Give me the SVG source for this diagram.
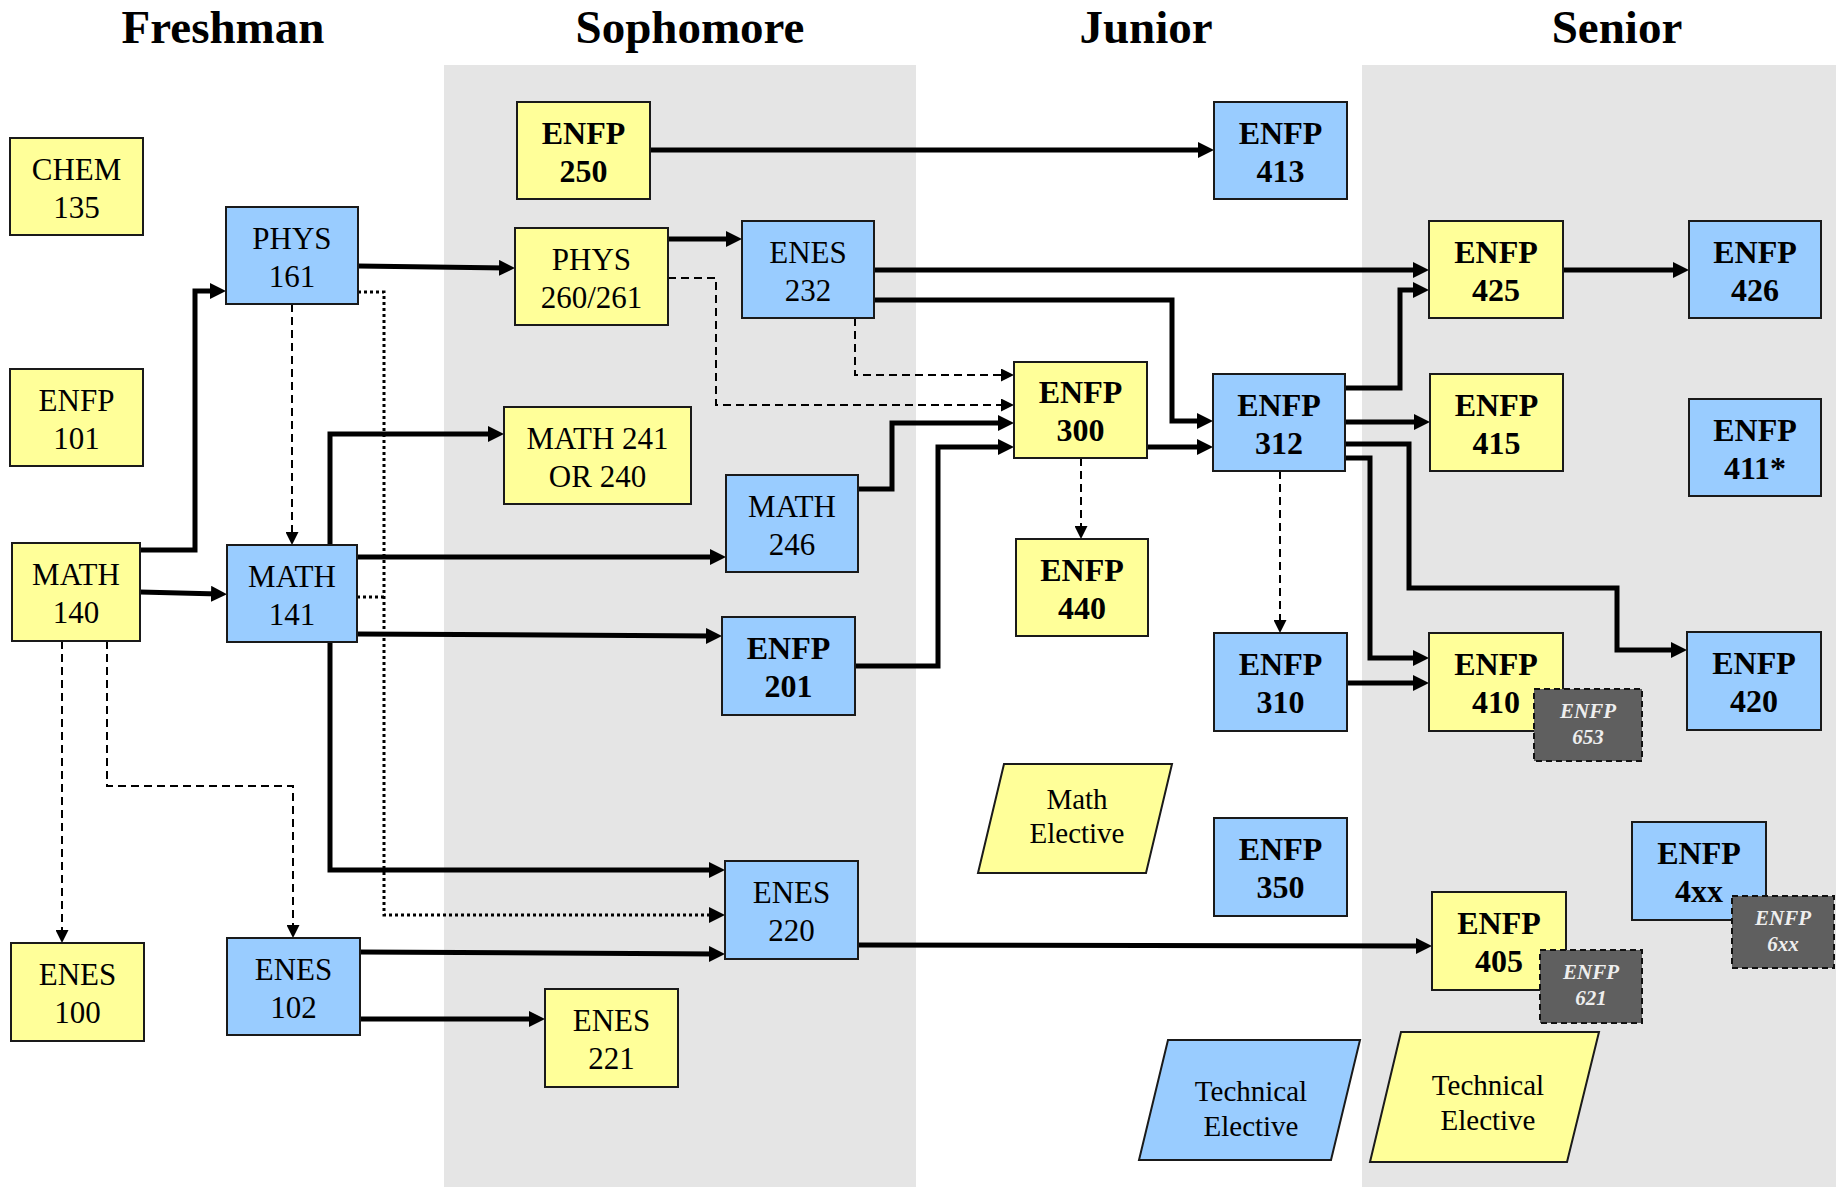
<svg xmlns="http://www.w3.org/2000/svg" width="1839" height="1191" viewBox="0 0 1839 1191">
<defs>
<style>
.bg{fill:#e5e5e5}
.y{fill:#ffff99;stroke:#1a1a1a;stroke-width:2}
.b{fill:#99ccff;stroke:#1a1a1a;stroke-width:2}
.d{fill:#5f5f5f;stroke:#111;stroke-width:2;stroke-dasharray:6 4}
text{font-family:"Liberation Serif","Times New Roman",serif;text-anchor:middle;fill:#000}
.t{font-size:47px;font-weight:bold}
.r{font-size:31px}
.k{font-size:32px;font-weight:bold}
.e{font-size:29px}
.w{font-size:21px;font-weight:bold;font-style:italic;fill:#eeeeee}
.c{fill:none;stroke:#000;stroke-width:5}
.ds{fill:none;stroke:#000;stroke-width:2;stroke-dasharray:8 5}
.dt{fill:none;stroke:#000;stroke-width:3;stroke-dasharray:3 3}
</style>
<marker id="ah" markerUnits="userSpaceOnUse" markerWidth="16" markerHeight="16" refX="8" refY="8" orient="auto"><path d="M0,0 L16,8 L0,16 Z" fill="#000"/></marker>
<marker id="as" markerUnits="userSpaceOnUse" markerWidth="13" markerHeight="13" refX="7" refY="6.5" orient="auto"><path d="M0,0 L13,6.5 L0,13 Z" fill="#000"/></marker>
</defs>
<rect width="1839" height="1191" fill="#fff"/>
<rect class="bg" x="444" y="65" width="472" height="1122"/>
<rect class="bg" x="1362" y="65" width="474" height="1122"/>
<g id="titles">
<text class="t" x="223" y="43">Freshman</text>
<text class="t" x="690" y="43">Sophomore</text>
<text class="t" x="1146" y="43">Junior</text>
<text class="t" x="1617" y="43">Senior</text>
</g>
<g id="connectors">
<path class="c" marker-end="url(#ah)" d="M650,150 H1206"/>
<path class="c" marker-end="url(#ah)" d="M358,266 L507,268"/>
<path class="c" marker-end="url(#ah)" d="M668,239 H734"/>
<path class="c" marker-end="url(#ah)" d="M874,270 H1421"/>
<path class="c" marker-end="url(#ah)" d="M874,300 H1172 V421 H1205"/>
<path class="c" marker-end="url(#ah)" d="M858,489 H892 V423 H1006"/>
<path class="c" marker-end="url(#ah)" d="M855,666 H938 V447 H1006"/>
<path class="c" marker-end="url(#ah)" d="M1147,447 H1205"/>
<path class="c" marker-end="url(#ah)" d="M1345,388 H1400 V290 H1421"/>
<path class="c" marker-end="url(#ah)" d="M1345,422 H1422"/>
<path class="c" marker-end="url(#ah)" d="M1345,444 H1409 V588 H1617 V650 H1679"/>
<path class="c" marker-end="url(#ah)" d="M1345,458 H1370 V658 H1421"/>
<path class="c" marker-end="url(#ah)" d="M1347,683 H1421"/>
<path class="c" marker-end="url(#ah)" d="M1563,270 H1681"/>
<path class="c" marker-end="url(#ah)" d="M140,550 H195 V291 H218"/>
<path class="c" marker-end="url(#ah)" d="M140,592 L219,594"/>
<path class="c" marker-end="url(#ah)" d="M330,545 V434 H496"/>
<path class="c" marker-end="url(#ah)" d="M357,557 H718"/>
<path class="c" marker-end="url(#ah)" d="M357,634 L714,636"/>
<path class="c" marker-end="url(#ah)" d="M330,642 V870 H717"/>
<path class="c" marker-end="url(#ah)" d="M360,952 L717,954"/>
<path class="c" marker-end="url(#ah)" d="M360,1019 H537"/>
<path class="c" marker-end="url(#ah)" d="M858,945 L1424,946"/>
<path class="ds" marker-end="url(#as)" d="M855,318 V375 H1008"/>
<path class="ds" marker-end="url(#as)" d="M668,278 H716 V405 H1008"/>
<path class="ds" marker-end="url(#as)" d="M1081,458 V533"/>
<path class="ds" marker-end="url(#as)" d="M1280,471 V627"/>
<path class="ds" marker-end="url(#as)" d="M292,304 V539"/>
<path class="ds" marker-end="url(#as)" d="M62,641 V937"/>
<path class="ds" marker-end="url(#as)" d="M107,641 V786 H293 V932"/>
<path class="dt" marker-end="url(#ah)" d="M358,292 H384 V915 H717"/>
<path class="dt" d="M357,597 H384"/>
</g>
<g id="chem135"><rect class="y" x="10" y="138" width="133" height="97"/><text class="r" x="76.5" y="180">CHEM</text><text class="r" x="76.5" y="218">135</text></g>
<g id="enfp101"><rect class="y" x="10" y="369" width="133" height="97"/><text class="r" x="76.5" y="411">ENFP</text><text class="r" x="76.5" y="449">101</text></g>
<g id="math140"><rect class="y" x="12" y="543" width="128" height="98"/><text class="r" x="76" y="585">MATH</text><text class="r" x="76" y="623">140</text></g>
<g id="phys161"><rect class="b" x="226" y="207" width="132" height="97"/><text class="r" x="292" y="249">PHYS</text><text class="r" x="292" y="287">161</text></g>
<g id="math141"><rect class="b" x="227" y="545" width="130" height="97"/><text class="r" x="292" y="587">MATH</text><text class="r" x="292" y="625">141</text></g>
<g id="enes100"><rect class="y" x="11" y="943" width="133" height="98"/><text class="r" x="77.5" y="985">ENES</text><text class="r" x="77.5" y="1023">100</text></g>
<g id="enes102"><rect class="b" x="227" y="938" width="133" height="97"/><text class="r" x="293.5" y="980">ENES</text><text class="r" x="293.5" y="1018">102</text></g>
<g id="enfp250"><rect class="y" x="517" y="102" width="133" height="97"/><text class="k" x="583.5" y="144">ENFP</text><text class="k" x="583.5" y="182">250</text></g>
<g id="phys260"><rect class="y" x="515" y="228" width="153" height="97"/><text class="r" x="591.5" y="270">PHYS</text><text class="r" x="591.5" y="308">260/261</text></g>
<g id="enes232"><rect class="b" x="742" y="221" width="132" height="97"/><text class="r" x="808" y="263">ENES</text><text class="r" x="808" y="301">232</text></g>
<g id="math241"><rect class="y" x="504" y="407" width="187" height="97"/><text class="r" x="597.5" y="449">MATH 241</text><text class="r" x="597.5" y="487">OR 240</text></g>
<g id="math246"><rect class="b" x="726" y="475" width="132" height="97"/><text class="r" x="792" y="517">MATH</text><text class="r" x="792" y="555">246</text></g>
<g id="enfp201"><rect class="b" x="722" y="617" width="133" height="98"/><text class="k" x="788.5" y="659">ENFP</text><text class="k" x="788.5" y="697">201</text></g>
<g id="enes220"><rect class="b" x="725" y="861" width="133" height="98"/><text class="r" x="791.5" y="903">ENES</text><text class="r" x="791.5" y="941">220</text></g>
<g id="enes221"><rect class="y" x="545" y="989" width="133" height="98"/><text class="r" x="611.5" y="1031">ENES</text><text class="r" x="611.5" y="1069">221</text></g>
<g id="enfp413"><rect class="b" x="1214" y="102" width="133" height="97"/><text class="k" x="1280.5" y="144">ENFP</text><text class="k" x="1280.5" y="182">413</text></g>
<g id="enfp300"><rect class="y" x="1014" y="362" width="133" height="96"/><text class="k" x="1080.5" y="403">ENFP</text><text class="k" x="1080.5" y="441">300</text></g>
<g id="enfp312"><rect class="b" x="1213" y="374" width="132" height="97"/><text class="k" x="1279" y="416">ENFP</text><text class="k" x="1279" y="454">312</text></g>
<g id="enfp440"><rect class="y" x="1016" y="539" width="132" height="97"/><text class="k" x="1082" y="581">ENFP</text><text class="k" x="1082" y="619">440</text></g>
<g id="enfp310"><rect class="b" x="1214" y="633" width="133" height="98"/><text class="k" x="1280.5" y="675">ENFP</text><text class="k" x="1280.5" y="713">310</text></g>
<g id="enfp350"><rect class="b" x="1214" y="818" width="133" height="98"/><text class="k" x="1280.5" y="860">ENFP</text><text class="k" x="1280.5" y="898">350</text></g>
<g id="mathelective"><polygon class="y" points="1004,764 1172,764 1146,873 978,873"/><text class="e" x="1077" y="809">Math</text><text class="e" x="1077" y="843">Elective</text></g>
<g id="techelective1"><polygon class="b" points="1168,1040 1360,1040 1331,1160 1139,1160"/><text class="e" x="1251" y="1101">Technical</text><text class="e" x="1251" y="1136">Elective</text></g>
<g id="enfp425"><rect class="y" x="1429" y="221" width="134" height="97"/><text class="k" x="1496" y="263">ENFP</text><text class="k" x="1496" y="301">425</text></g>
<g id="enfp426"><rect class="b" x="1689" y="221" width="132" height="97"/><text class="k" x="1755" y="263">ENFP</text><text class="k" x="1755" y="301">426</text></g>
<g id="enfp415"><rect class="y" x="1430" y="374" width="133" height="97"/><text class="k" x="1496.5" y="416">ENFP</text><text class="k" x="1496.5" y="454">415</text></g>
<g id="enfp411"><rect class="b" x="1689" y="399" width="132" height="97"/><text class="k" x="1755" y="441">ENFP</text><text class="k" x="1755" y="479">411*</text></g>
<g id="enfp410"><rect class="y" x="1429" y="633" width="134" height="98"/><text class="k" x="1496" y="675">ENFP</text><text class="k" x="1496" y="713">410</text></g>
<g id="enfp653"><rect class="d" x="1534" y="689" width="108" height="72"/><text class="w" x="1588" y="718">ENFP</text><text class="w" x="1588" y="744">653</text></g>
<g id="enfp420"><rect class="b" x="1687" y="632" width="134" height="98"/><text class="k" x="1754" y="674">ENFP</text><text class="k" x="1754" y="712">420</text></g>
<g id="enfp4xx"><rect class="b" x="1632" y="822" width="134" height="98"/><text class="k" x="1699" y="864">ENFP</text><text class="k" x="1699" y="902">4xx</text></g>
<g id="enfp6xx"><rect class="d" x="1732" y="896" width="102" height="72"/><text class="w" x="1783" y="925">ENFP</text><text class="w" x="1783" y="951">6xx</text></g>
<g id="enfp405"><rect class="y" x="1432" y="892" width="134" height="98"/><text class="k" x="1499" y="934">ENFP</text><text class="k" x="1499" y="972">405</text></g>
<g id="enfp621"><rect class="d" x="1540" y="950" width="102" height="73"/><text class="w" x="1591" y="979">ENFP</text><text class="w" x="1591" y="1005">621</text></g>
<g id="techelective2"><polygon class="y" points="1401,1032 1599,1032 1567,1162 1370,1162"/><text class="e" x="1488" y="1095">Technical</text><text class="e" x="1488" y="1130">Elective</text></g>
</svg>
